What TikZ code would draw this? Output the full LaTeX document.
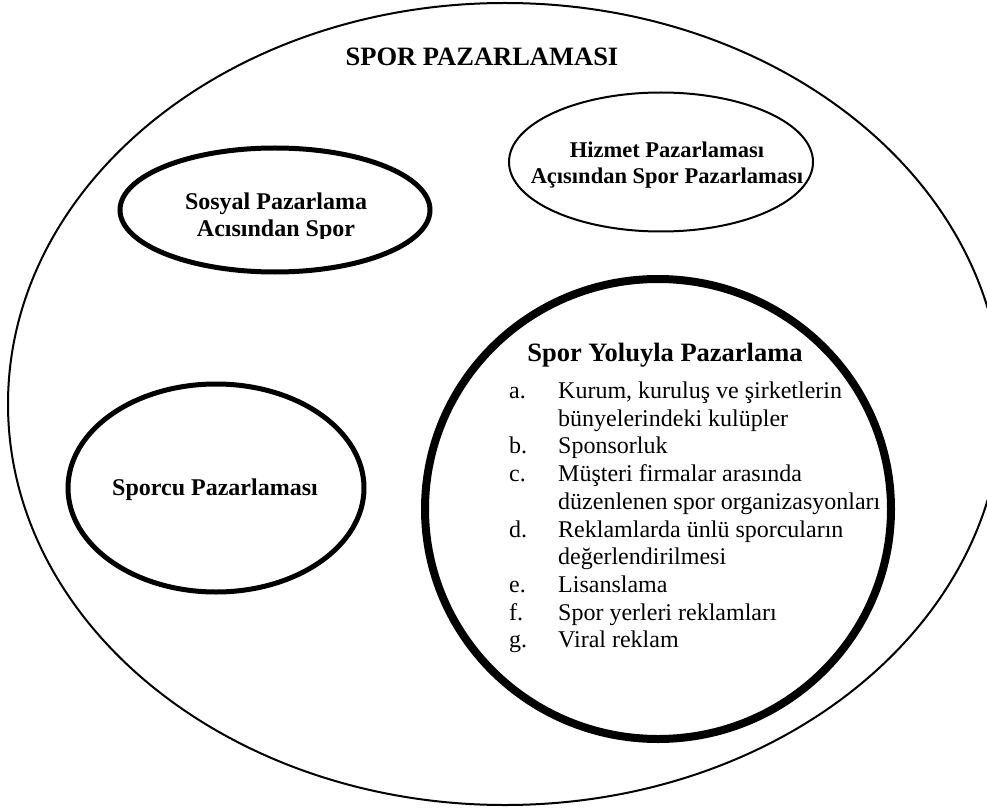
\documentclass[tikz,border=0pt]{standalone}
\usepackage{fontspec}
\setmainfont{Liberation Serif}
\usetikzlibrary{shapes.geometric,positioning}
\tikzset{
  alan/.style={ellipse,draw=black,inner sep=0pt},
  ince/.style={line width=2pt},
  kalin/.style={line width=5pt},
  baslik/.style={font=\bfseries\fontsize{24}{27}\selectfont,align=center,inner sep=0pt},
  liste/.style={font=\fontsize{24}{27.7}\selectfont,anchor=north west,inner sep=0pt},
}

\begin{document}
\begin{tikzpicture}[x=1pt,y=-1pt]
\useasboundingbox (0,0) rectangle (987,810);
\clip (0,0) rectangle (987,810);
% dis elips
\node[alan,ince,minimum width=994pt,minimum height=802pt] (pazarlama) at (505,404) {};
\node[baslik,font=\bfseries\fontsize{26.5}{30}\selectfont] (ana) at (482,57) {SPOR PAZARLAMASI};
% kucuk elipsler
\node[alan,ince,minimum width=304pt,minimum height=139pt] (hizmet) at (661,162) {};
\node[baslik,font=\bfseries\fontsize{22.5}{26}\selectfont] (hizmettxt) at (667,165)
  {Hizmet Pazarlaması\\Açısından Spor Pazarlaması};
\node[alan,kalin,minimum width=310pt,minimum height=124pt] (sosyal) at (275,210) {};
\begin{scope}
  \clip (150,180) rectangle (400,239);
  \node[baslik] (sosyaltxt) at (276,217) {Sosyal Pazarlama\\Acısından Spor};
\end{scope}
\node[alan,kalin,minimum width=296pt,minimum height=208pt] (sporcu) at (216,488) {};
\node[baslik] (sporcutxt) at (215,490) {Sporcu Pazarlaması};
% spor yoluyla
\node[alan,line width=8pt,minimum width=466pt,minimum height=460pt] (yoluyla) at (658,509) {};
\node[baslik,font=\bfseries\fontsize{26.5}{30}\selectfont] (yoluylabaslik) at (665,355) {Spor Yoluyla Pazarlama};
\node[liste] (maddeler) at (509,379) {%
  \begin{tabular}{@{}p{49pt}@{}l@{}}
  a. & Kurum, kuruluş ve şirketlerin\\
     & bünyelerindeki kulüpler\\
  b. & Sponsorluk\\
  c. & Müşteri firmalar arasında\\
     & düzenlenen spor organizasyonları\\
  d. & Reklamlarda ünlü sporcuların\\
     & değerlendirilmesi\\
  e. & Lisanslama\\
  f. & Spor yerleri reklamları\\
  g. & Viral reklam
  \end{tabular}};
\end{tikzpicture}
\end{document}
